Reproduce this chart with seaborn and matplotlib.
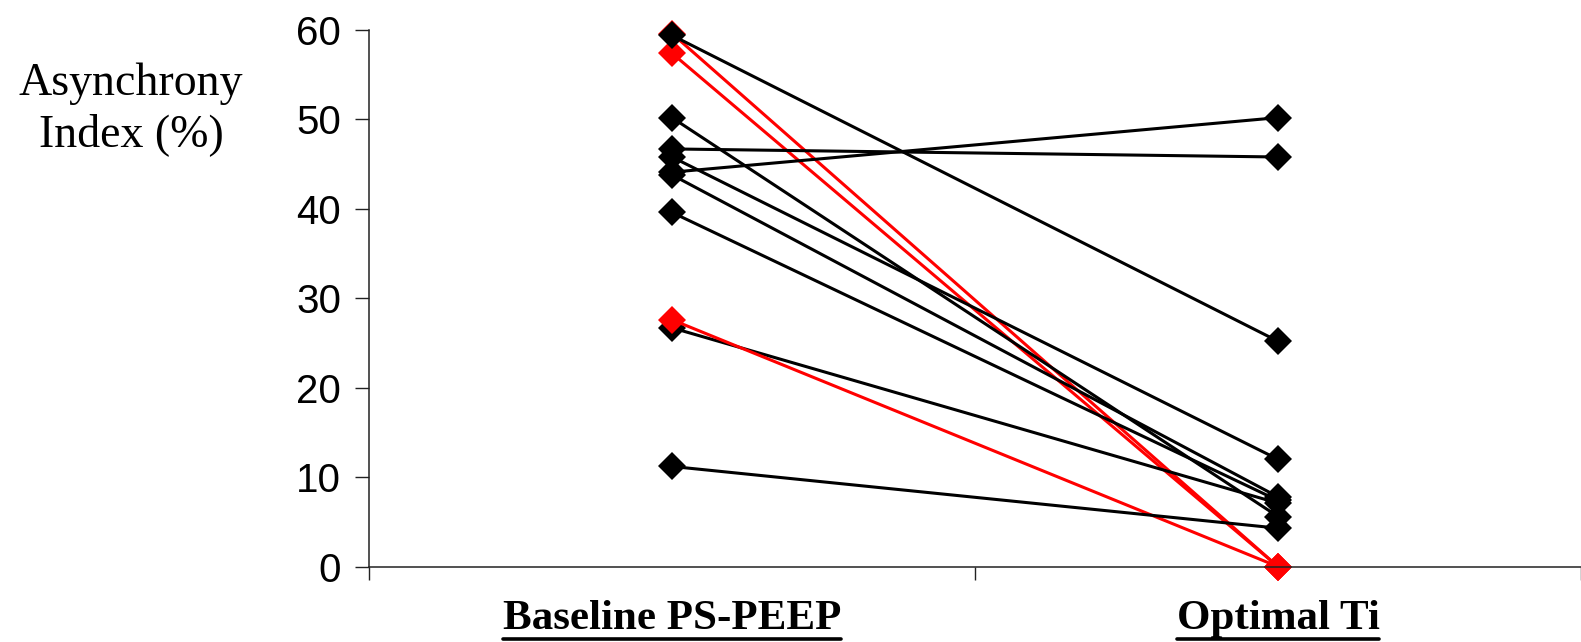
import numpy as np
import pandas as pd
import seaborn as sns
import matplotlib.pyplot as plt
from matplotlib.lines import Line2D

conditions = ['Baseline PS-PEEP', 'Optimal Ti']
patients = ['P1', 'P2', 'P3', 'P4', 'P5', 'P6', 'P7', 'P8', 'P9', 'P10', 'P11', 'P12']
baseline = [59.6, 57.4, 59.4, 50.2, 46.7, 45.8, 44.1, 43.8, 39.6, 26.7, 27.6, 11.2]
optimal = [0.0, 0.0, 25.2, 5.6, 45.8, 12.0, 50.2, 7.8, 7.4, 7.1, 0.0, 4.3]
colors = ['#ff0000', '#ff0000', 'black', 'black', 'black', 'black', 'black',
          'black', 'black', 'black', '#ff0000', 'black']

df = pd.DataFrame({
    'patient': np.repeat(patients, 2),
    'condition': conditions * len(patients),
    'value': np.column_stack([baseline, optimal]).ravel(),
})
df['pos'] = df['condition'].map({c: i for i, c in enumerate(conditions)})

sns.set_style('ticks')
plt.rcParams['font.family'] = ['Liberation Sans', 'DejaVu Sans']
plt.rcParams['text.color'] = 'black'
plt.rcParams['xtick.color'] = 'black'
plt.rcParams['ytick.color'] = 'black'

fig = plt.figure(figsize=(15.81, 6.42), dpi=100)
ax = fig.add_axes([0.2334, 0.1174, 0.7666, 0.8359])

sns.lineplot(data=df, x='pos', y='value', hue='patient', hue_order=patients,
             palette=dict(zip(patients, colors)), marker='D', markersize=14.5,
             markeredgewidth=0, linewidth=2.2, estimator=None, sort=False,
             legend=False, clip_on=False, ax=ax)

ax.set_xlim(-0.5, 1.5)
ax.set_ylim(0, 60)
ax.set_yticks(range(0, 61, 10))
ax.set_xticks([0, 1])
ax.set_xticks([-0.5, 0.5, 1.5], minor=True)
ax.set_xticklabels(conditions, family=['Liberation Serif'], fontweight='bold', fontsize=31)
ax.tick_params(axis='x', which='major', length=0, pad=24)
ax.tick_params(axis='x', which='minor', length=9, width=1, color='#222222')
ax.tick_params(axis='y', length=10, width=1, color='#222222', labelsize=29, pad=10)
ax.set_xlabel('')
ax.set_ylabel('')
sns.despine(ax=ax)
for s in ['left', 'bottom']:
    ax.spines[s].set_color('#222222')
    ax.spines[s].set_linewidth(1.1)

fig.text(131 / 1581, 1 - 109 / 642, 'Asynchrony\nIndex (%)', family=['Liberation Serif'],
         fontsize=33, ha='center', va='center', multialignment='center', linespacing=1.25)

# underline the category labels
fig.canvas.draw()
inv = fig.transFigure.inverted()
for lbl in ax.get_xticklabels():
    bb = lbl.get_window_extent().transformed(inv)
    y = bb.y0 - 1.5 / 642
    fig.add_artist(Line2D([bb.x0, bb.x1], [y, y], color='black', linewidth=2.6,
                          transform=fig.transFigure))

fig.savefig('out.png', dpi=100)
